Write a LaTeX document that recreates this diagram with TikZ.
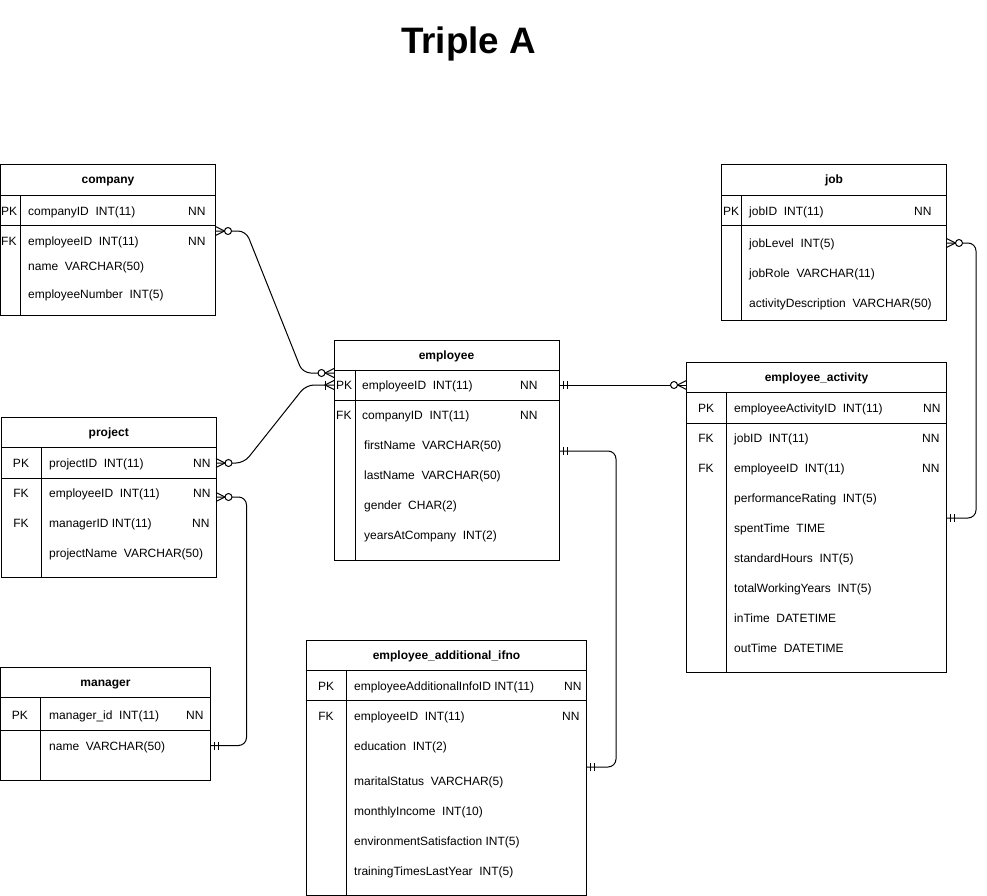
\documentclass[tikz,border=0pt]{standalone}
\usepackage{fontspec}
\setmainfont{Liberation Sans}
\usetikzlibrary{calc}
\tikzset{
  tbl/.style={draw, line width=1pt, inner sep=0pt, outer sep=0pt},
  hdr/.style={font=\bfseries\fontsize{12}{14}\selectfont, inner sep=0pt, text height=9pt, text depth=3pt},
  cell/.style={anchor=west, font=\fontsize{12}{14}\selectfont, inner sep=0pt, text height=9pt, text depth=3pt, yshift=-1.2pt},
  ctr/.style={cell, anchor=center},
  conn/.style={line width=1pt, rounded corners=8pt},
  zmany/.pic={\draw[line width=1pt] (0,-4.5) -- (9,0) -- (0,4.5);
              \draw[line width=1pt, fill=white] (12.5,0) circle[radius=3.5pt];},
  omany/.pic={\draw[line width=1pt] (0,-4.5) -- (9,0) -- (0,4.5);
              \draw[line width=1pt] (9,-4.5) -- (9,4.5);},
  mone/.pic={\draw[line width=1pt] (4,-4) -- (4,4);
             \draw[line width=1pt] (8,-4) -- (8,4);}
}
% #1 name, #2 x, #3 y, #4 w, #5 h, #6 title, #7 pk-line y, #8 divider x
\newcommand\ertable[8]{%
  \node[tbl, minimum width=#4pt, minimum height=#5pt, anchor=north west] (#1) at (#2,#3) {};
  \node[hdr] (#1-t) at ($(#1.north)+(0,16)$) {#6};
  \draw[line width=1pt] (#2,{#3+30}) -- ++(#4,0);
  \draw[line width=1pt] (#2,#7) -- ++(#4,0);
  \draw[line width=1pt] (#8,{#3+30}) -- (#8,{#3+#5});
}
\begin{document}
\begin{tikzpicture}[x=1pt,y=-1pt]
\useasboundingbox (0,0) rectangle (987,896);

\node[anchor=base, font=\bfseries\fontsize{36.8}{40}\selectfont] (title) at (468.5,54) {Triple A};

% company
\ertable{company}{0.5}{165}{215}{150}{company}{225.5}{20.5}
\node[cell] (c1) at (1,211) {PK};
\node[cell] (c2) at (28,211) {companyID\ \ INT(11)};
\node[cell] (c3) at (188,211) {NN};
\node[cell] (c4) at (1,241) {FK};
\node[cell] (c5) at (28,241) {employeeID\ \ INT(11)};
\node[cell] (c6) at (188,241) {NN};
\node[cell] (c7) at (28,266) {name\ \ VARCHAR(50)};
\node[cell] (c8) at (28,294) {employeeNumber\ \ INT(5)};

% job
\ertable{job}{721.5}{165}{225}{155.5}{job}{225.5}{741.5}
\node[cell] (j1) at (723,211) {PK};
\node[cell] (j2) at (749,211) {jobID\ \ INT(11)};
\node[cell] (j3) at (914,211) {NN};
\node[cell] (j4) at (749,243) {jobLevel\ \ INT(5)};
\node[cell] (j5) at (749,273) {jobRole\ \ VARCHAR(11)};
\node[cell] (j6) at (749,303) {activityDescription\ \ VARCHAR(50)};

% employee
\ertable{employee}{334}{340.5}{225}{219.5}{employee}{400.5}{355}
\node[cell] (e1) at (336,385) {PK};
\node[cell] (e2) at (362,385) {employeeID\ \ INT(11)};
\node[cell] (e3) at (520,385) {NN};
\node[cell] (e4) at (336,415) {FK};
\node[cell] (e5) at (362,415) {companyID\ \ INT(11)};
\node[cell] (e6) at (520,415) {NN};
\node[cell] (e7) at (364,445) {firstName\ \ VARCHAR(50)};
\node[cell] (e8) at (364,475) {lastName\ \ VARCHAR(50)};
\node[cell] (e9) at (364,505) {gender\ \ CHAR(2)};
\node[cell] (e10) at (364,535) {yearsAtCompany\ \ INT(2)};

% project
\ertable{project}{1.5}{417.5}{214.5}{160}{project}{478}{41.5}
\node[ctr] (p1) at (21,463) {PK};
\node[cell] (p2) at (49,463) {projectID\ \ INT(11)};
\node[cell] (p3) at (193,463) {NN};
\node[ctr] (p4) at (21,493) {FK};
\node[cell] (p5) at (49,493) {employeeID\ \ INT(11)};
\node[cell] (p6) at (193,493) {NN};
\node[ctr] (p7) at (21,523) {FK};
\node[cell] (p8) at (49,523) {managerID INT(11)};
\node[cell] (p9) at (192,523) {NN};
\node[cell] (p10) at (49,553) {projectName\ \ VARCHAR(50)};

% manager
\ertable{manager}{0.5}{667.5}{210}{113}{manager}{730.5}{40.5}
\node[ctr] (m1) at (20,715) {PK};
\node[cell] (m2) at (49,715) {manager\_id\ \ INT(11)};
\node[cell] (m3) at (186,715) {NN};
\node[cell] (m4) at (49,746) {name\ \ VARCHAR(50)};

% employee_additional_ifno
\ertable{addl}{306.5}{640.5}{280}{254.5}{employee\_additional\_ifno}{700}{346.5}
\node[ctr] (a1) at (326,686) {PK};
\node[cell] (a2) at (354,686) {employeeAdditionalInfoID INT(11)};
\node[cell] (a3) at (564,686) {NN};
\node[ctr] (a4) at (326,716) {FK};
\node[cell] (a5) at (354,716) {employeeID\ \ INT(11)};
\node[cell] (a6) at (562,716) {NN};
\node[cell] (a7) at (354,746) {education\ \ INT(2)};
\node[cell] (a8) at (354,781) {maritalStatus\ \ VARCHAR(5)};
\node[cell] (a9) at (354,811) {monthlyIncome\ \ INT(10)};
\node[cell] (a10) at (354,841) {environmentSatisfaction INT(5)};
\node[cell] (a11) at (354,871) {trainingTimesLastYear\ \ INT(5)};

% employee_activity
\ertable{activity}{686.5}{362.5}{260}{310}{employee\_activity}{423}{726}
\node[ctr] (v1) at (706,408) {PK};
\node[cell] (v2) at (734,408) {employeeActivityID\ \ INT(11)};
\node[cell] (v3) at (923,408) {NN};
\node[ctr] (v4) at (706,438) {FK};
\node[cell] (v5) at (734,438) {jobID\ \ INT(11)};
\node[cell] (v6) at (922,438) {NN};
\node[ctr] (v7) at (706,468) {FK};
\node[cell] (v8) at (734,468) {employeeID\ \ INT(11)};
\node[cell] (v9) at (922,468) {NN};
\node[cell] (v10) at (734,498) {performanceRating\ \ INT(5)};
\node[cell] (v11) at (734,528) {spentTime\ \ TIME};
\node[cell] (v12) at (734,558) {standardHours\ \ INT(5)};
\node[cell] (v13) at (734,588) {totalWorkingYears\ \ INT(5)};
\node[cell] (v14) at (734,618) {inTime\ \ DATETIME};
\node[cell] (v15) at (734,648) {outTime\ \ DATETIME};

% connectors
\draw[conn] (company.east |- 0,231) -- (246,231) -- (302.6,373) -- (employee.west |- 0,373);
\draw[conn] (project.east |- 0,463) -- (244,463) -- (306,385) -- (employee.west |- 0,385);
\draw[conn] (project.east |- 0,497) -- (246.5,497) -- (246.5,745.5) -- (manager.east |- 0,745.5);
\draw[conn] (employee.east |- 0,385) -- (activity.west |- 0,385);
\draw[conn] (employee.east |- 0,451) -- (616,451) -- (616,767) -- (addl.east |- 0,767);
\draw[conn] (job.east |- 0,243) -- (976,243) -- (976,518) -- (activity.east |- 0,518);

% end markers
\pic at (company.east |- 0,231) {zmany};
\pic[xscale=-1] at (employee.west |- 0,373) {zmany};
\pic at (project.east |- 0,463) {zmany};
\pic[xscale=-1] at (employee.west |- 0,385) {omany};
\pic at (project.east |- 0,497) {zmany};
\pic at (manager.east |- 0,745.5) {mone};
\pic at (employee.east |- 0,385) {mone};
\pic[xscale=-1] at (activity.west |- 0,385) {zmany};
\pic at (employee.east |- 0,451) {mone};
\pic at (addl.east |- 0,767) {mone};
\pic at (job.east |- 0,243) {zmany};
\pic at (activity.east |- 0,518) {mone};
\end{tikzpicture}
\end{document}
